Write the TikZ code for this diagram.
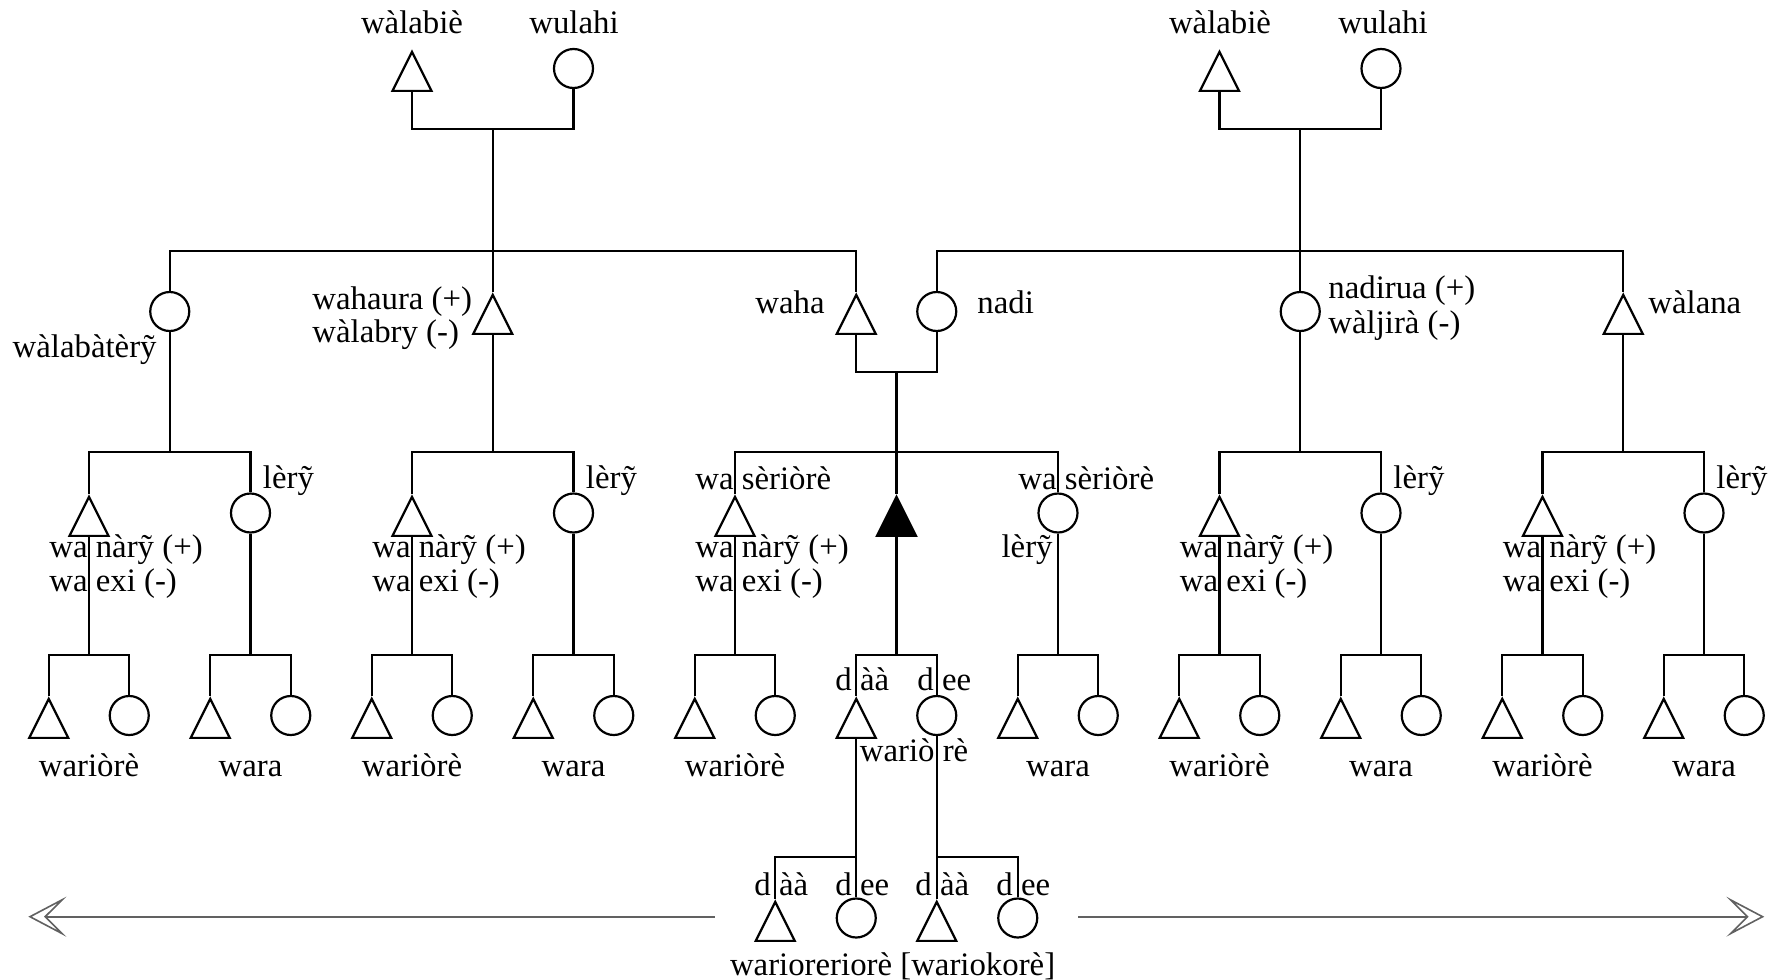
\documentclass[tikz,border=0pt]{standalone}
\usepackage{fontspec}
\setmainfont{Liberation Serif}
\usetikzlibrary{shapes.geometric,arrows.meta,backgrounds}
\newcommand\labfont{\fontsize{16.4}{19}\selectfont}
\begin{document}
\begin{tikzpicture}[x=0.5pt,y=-0.5pt,
  tree/.style={line width=1.1pt},
  male/.style={isosceles triangle, isosceles triangle stretches, shape border rotate=90,
    minimum width=19.5pt, minimum height=19.5pt, inner sep=0pt, draw, fill=white,
    line width=1.1pt, anchor=apex},
  female/.style={circle, minimum size=19.5pt, inner sep=0pt, draw, fill=white, line width=1.1pt},
  egosym/.style={male, fill=black},
  lbl/.style={inner sep=0pt, font=\labfont},
  arrowline/.style={draw=black!62, line width=0.8pt,
    -{Stealth[open, length=19pt, width=20pt, inset=10pt]}}
]
\useasboundingbox (0,0) rectangle (1769,980);

% ---------- generation 1
\node[male] (T1) at (412,49) {};
\node[female] (C1) at (573.5,68.5) {};
\node[male] (T2) at (1219.5,49) {};
\node[female] (C2) at (1381,68.5) {};
% ---------- generation 2
\node[female] (wlbt) at (169.75,311.5) {};
\node[male] (whr) at (492.75,292) {};
\node[male] (waha) at (856.25,292) {};
\node[female] (nadi) at (936.75,311.5) {};
\node[female] (ndr) at (1300.25,311.5) {};
\node[male] (wln) at (1623.25,292) {};
% ---------- generation 3
\foreach \i in {0,2,4,7,9} \node[male] (k\i) at ({89+161.5*\i},494) {};
\foreach \i in {1,3,6,8,10} \node[female] (k\i) at ({89+161.5*\i},513) {};
\node[egosym] (k5) at (896.5,494) {};
% ---------- generation 4
\foreach \i in {0,1,2,3,4,5,6,7,8,9,10} {
  \node[male] (m\i) at ({89+161.5*\i-40.25},696) {};
  \node[female] (f\i) at ({89+161.5*\i+40.25},715.5) {};
}
% ---------- generation 5
\node[male] (daam) at (775.25,899) {};
\node[female] (daaf) at (856.25,918) {};
\node[male] (deem) at (936.75,899) {};
\node[female] (deef) at (1017.75,918) {};

% ---------- connectors
\begin{scope}[on background layer={tree}]
  \coordinate (j1) at (492.75,129);
  \coordinate (s1) at (492.75,251);
  \draw (T1) |- (j1) -| (C1);
  \draw (j1) -- (whr);
  \draw (wlbt) |- (s1) -| (waha);
  \coordinate (j2) at (1300.25,129);
  \coordinate (s2) at (1300.25,251);
  \draw (T2) |- (j2) -| (C2);
  \draw (j2) -- (ndr);
  \draw (nadi) |- (s2) -| (wln);
  \coordinate (j3) at (896.5,372);
  \coordinate (s3) at (896.5,452);
  \draw (waha) |- (j3) -| (nadi);
  \draw (j3) -- (k5);
  \draw (k4) |- (s3) -| (k6);
  \coordinate (sA) at (169.75,452);
  \draw (wlbt) -- (sA);
  \draw (k0) |- (sA) -| (k1);
  \coordinate (sB) at (492.75,452);
  \draw (whr) -- (sB);
  \draw (k2) |- (sB) -| (k3);
  \coordinate (sD) at (1300.25,452);
  \draw (ndr) -- (sD);
  \draw (k7) |- (sD) -| (k8);
  \coordinate (sE) at (1623.25,452);
  \draw (wln) -- (sE);
  \draw (k9) |- (sE) -| (k10);
  \foreach \i in {0,1,2,3,4,5,6,7,8,9,10} {
    \coordinate (c\i) at ({89+161.5*\i},655);
    \draw (k\i) -- (c\i);
    \draw (m\i) |- (c\i) -| (f\i);
  }
  \coordinate (c5a) at (856.25,857);
  \coordinate (c5b) at (936.75,857);
  \draw (m5) -- (c5a) -- (daaf);
  \draw (daam) |- (c5a);
  \draw (f5) -- (c5b) -- (deem);
  \draw (c5b) -| (deef);
\end{scope}

% ---------- arrows
\coordinate (aL1) at (714.8,916.7);
\coordinate (aL2) at (28.3,916.7);
\coordinate (aR1) at (1078.4,916.7);
\coordinate (aR2) at (1764.3,916.7);
\draw[arrowline] (aL1) -- (aL2);
\draw[arrowline] (aR1) -- (aR2);

% ---------- labels
\node[lbl, anchor=base] (l1) at (412,33) {wàlabiè};
\node[lbl, anchor=base] (l2) at (574,33) {wulahi};
\node[lbl, anchor=base] (l3) at (1220,33) {wàlabiè};
\node[lbl, anchor=base] (l4) at (1383,33) {wulahi};
\node[lbl, anchor=base east] (l5) at (157,357) {wàlabàtèrỹ};
\node[lbl, anchor=base west] (l6) at (312,309.5) {wahaura (+)};
\node[lbl, anchor=base west] (l7) at (312,342) {wàlabry (-)};
\node[lbl, anchor=base east] (l8) at (825,313) {waha};
\node[lbl, anchor=base west] (l9) at (977,313) {nadi};
\node[lbl, anchor=base west] (l10) at (1328,298.5) {nadirua (+)};
\node[lbl, anchor=base west] (l11) at (1328,333) {wàljirà (-)};
\node[lbl, anchor=base west] (l12) at (1648,313) {wàlana};
\foreach \i in {0,2,4,7,9} {
  \node[lbl, anchor=base west] (np\i) at ({89+161.5*\i-40},557) {wa nàrỹ (+)};
  \node[lbl, anchor=base west] (nm\i) at ({89+161.5*\i-40},591) {wa exi (-)};
  \node[lbl, anchor=base] (wr\i) at ({89+161.5*\i},776) {wariòrè};
}
\foreach \i in {1,3,8,10}
  \node[lbl, anchor=base west] (le\i) at ({89+161.5*\i+12},488) {lèrỹ};
\foreach \i in {1,3,6,8,10}
  \node[lbl, anchor=base] (wa\i) at ({89+161.5*\i},776) {wara};
\node[lbl, anchor=base west] (ws4) at (695,489) {wa sèriòrè};
\node[lbl, anchor=base west] (ws6) at (1018,489) {wa sèriòrè};
\node[lbl, anchor=base east] (le6) at (1053,557) {lèrỹ};
\node[lbl, anchor=base west] (d1) at (835,690) {d àà};
\node[lbl, anchor=base west] (d2) at (917,690) {d ee};
\node[lbl, anchor=base west] (wrr) at (859.5,761) {wariò rè};
\node[lbl, anchor=base west] (d3) at (754,895) {d àà};
\node[lbl, anchor=base west] (d4) at (835,895) {d ee};
\node[lbl, anchor=base west] (d5) at (915,895) {d àà};
\node[lbl, anchor=base west] (d6) at (996,895) {d ee};
\node[lbl, anchor=base] (bot) at (892.6,975) {warioreriorè [wariokorè]};
\end{tikzpicture}
\end{document}
